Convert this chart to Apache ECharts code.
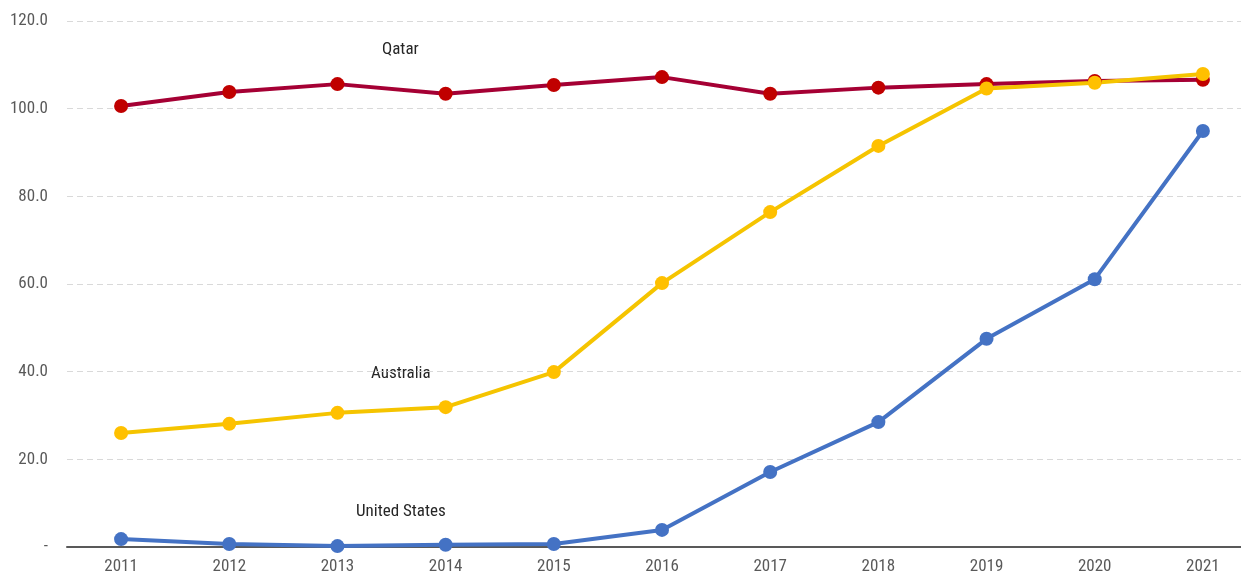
<!DOCTYPE html>
<html>
<head>
<meta charset="utf-8">
<script src="https://cdn.jsdelivr.net/npm/echarts@6/dist/echarts.min.js"></script>
<style>
html, body { margin: 0; padding: 0; background: #fff; overflow: hidden; }
/* a bit wider than the window: the plot runs past the right edge, as in the original */
#main { width: 1257px; height: 581px; }
</style>
</head>
<body>
<div id="main"></div>
<script type="text/javascript">
var years = ['2011','2012','2013','2014','2015','2016','2017','2018','2019','2020','2021'];
var qatar = [100.6, 103.8, 105.6, 103.4, 105.4, 107.2, 103.4, 104.8, 105.6, 106.3, 106.6];
var australia = [26.0, 28.1, 30.6, 31.9, 39.9, 60.2, 76.4, 91.5, 104.6, 105.9, 107.9];
var unitedStates = [1.8, 0.7, 0.2, 0.5, 0.7, 3.9, 17.1, 28.5, 47.5, 61.1, 94.9];

var font = '"Roboto Condensed", "Liberation Sans Narrow", "Roboto", sans-serif';

var myChart = echarts.init(document.getElementById('main'));

function lineSeries(name, data, lineColor, dotColor) {
	return {
		name: name,
		type: 'line',
		data: data,
		symbol: 'circle',
		symbolSize: 14,
		lineStyle: { color: lineColor, width: 4 },
		itemStyle: { color: dotColor },
		animation: false
	};
}

var option = {
	backgroundColor: '#fff',
	grid: { left: 67, right: 0, top: 21, bottom: 34 },
	xAxis: {
		type: 'category',
		data: years,
		boundaryGap: true,
		axisLine: { lineStyle: { color: '#595959', width: 2 } },
		axisTick: { show: false },
		axisLabel: { color: '#595959', fontFamily: font, fontSize: 17, margin: 11 }
	},
	yAxis: {
		type: 'value',
		min: 0,
		max: 120,
		interval: 20,
		axisLine: { show: false },
		axisTick: { show: false },
		splitLine: { lineStyle: { color: '#D9D9D9', type: [6, 4], width: 1 } },
		axisLabel: {
			color: '#595959', fontFamily: font, fontSize: 17, margin: 19,
			formatter: function (v) { return v === 0 ? '-' : v.toFixed(1); }
		}
	},
	series: [
		lineSeries('United States', unitedStates, '#4472C4', '#4472C4'),
		lineSeries('Qatar', qatar, '#A50034', '#C00000'),
		lineSeries('Australia', australia, '#F5C400', '#FFC000')
	],
	graphic: [
		{ type: 'text', left: 382, top: 41, style: { text: 'Qatar', fill: '#262626', font: '17px ' + font } },
		{ type: 'text', left: 371, top: 365, style: { text: 'Australia', fill: '#262626', font: '17px ' + font } },
		{ type: 'text', left: 356, top: 503, style: { text: 'United States', fill: '#262626', font: '17px ' + font } }
	]
};

myChart.setOption(option);
</script>
</body>
</html>
